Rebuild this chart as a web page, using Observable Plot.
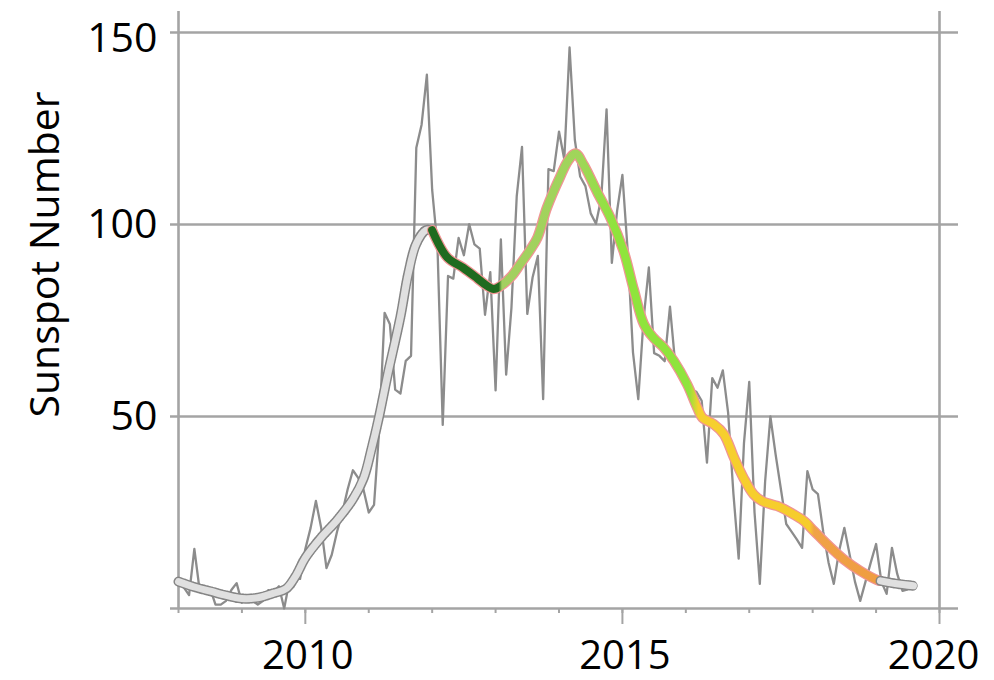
<!DOCTYPE html>
<html>
<head>
<meta charset="utf-8">
<script src="https://cdn.jsdelivr.net/npm/d3@7"></script>
<script src="https://cdn.jsdelivr.net/npm/@observablehq/plot@0.6"></script>
<style>
  html, body { margin: 0; padding: 0; background: #fff; }
  #chart svg { display: block; }
</style>
</head>
<body>
<div id="chart"></div>
<script>
// ---- Data: monthly sunspot numbers (Jan..Dec of each year) ----
const m2008 = [5.5, 3.5, 15.5, 4.8, 4.8, 5.2, 1.0, 1.0, 2.0, 4.8, 6.6, 1.5];
const m2009 = [2.2, 2.0, 1.0, 2.0, 4.8, 4.3, 5.8, 0.0, 7.2, 8.0, 7.7, 15.5];
const m2010 = [21, 28, 21, 10.5, 14, 20, 25, 31, 36, 34, 31, 25];
const m2011 = [27, 47, 77, 74, 57, 56, 64.5, 65.8, 120, 126, 139, 109];
const m2012 = [94.4, 47.8, 86.6, 85.9, 96.5, 92.0, 100.1, 94.8, 93.7, 76.5, 87.6, 56.8];
const m2013 = [96.1, 60.9, 78.3, 107.3, 120.2, 76.7, 86.2, 91.8, 54.5, 114.4, 113.9, 124.2];
const m2014 = [117.0, 146.1, 122, 112.5, 110, 102.9, 100.2, 106.9, 130.0, 90.0, 103.6, 112.9];
const m2015 = [93.0, 66.7, 54.5, 75.3, 88.8, 66.5, 65.8, 64.4, 78.6, 63.6, 62.2, 58.0];
const m2016 = [57, 56.4, 54.1, 38, 60, 57.5, 62, 51, 30, 13, 43, 59];
const m2017 = [25, 6.4, 33, 50, 40, 31, 22, 20, 18, 15.8, 35.8, 31];
const m2018 = [29.8, 20, 12, 6.4, 15, 21, 14, 7, 2, 7, 12, 16.8];
const m2019 = [7, 3.8, 15.8, 9, 4.6, 5, 6];
const monthlyYears = [2008, 2009, 2010, 2011, 2012, 2013, 2014, 2015, 2016, 2017, 2018, 2019];
const monthlyByYear = [m2008, m2009, m2010, m2011, m2012, m2013, m2014, m2015, m2016, m2017, m2018, m2019];

// ---- Data: smoothed sunspot number (time in decimal years) ----
const smoothEarlyT = [2008.0, 2008.25, 2008.5, 2008.75, 2009.0, 2009.25, 2009.5, 2009.7, 2009.85, 2010.0, 2010.25, 2010.5, 2010.75, 2010.92, 2011.05, 2011.15, 2011.3, 2011.5, 2011.62, 2011.75, 2011.9, 2012.0];
const smoothEarlyV = [7.0, 5.6, 4.5, 3.4, 2.6, 2.8, 4.0, 5.2, 8.5, 13.2, 18.5, 23, 28.5, 34, 42, 49, 61, 76, 87, 95, 98.5, 98.5];

const smoothCycleT = [2012.0, 2012.24, 2012.49, 2012.71, 2012.85, 2012.97, 2013.08, 2013.25, 2013.39, 2013.55, 2013.66, 2013.81, 2014.02, 2014.14, 2014.26, 2014.39, 2014.6, 2014.81, 2015.02, 2015.18, 2015.34, 2015.49, 2015.65, 2015.81, 2016.02, 2016.18, 2016.26, 2016.35, 2016.44, 2016.6, 2016.76, 2016.91, 2017.07, 2017.2, 2017.33, 2017.44, 2017.7, 2017.86, 2018.02, 2018.23, 2018.49, 2018.75, 2019.02, 2019.07];
const smoothCycleV = [98.5, 91.4, 88.7, 86, 84.2, 83.2, 84, 86.5, 89.7, 93.5, 96.6, 104.4, 112.5, 116.5, 118.5, 115.5, 108.5, 101.8, 93, 83, 74, 70.5, 68, 64.5, 58.4, 52.3, 49.7, 48.8, 48, 45.4, 39.3, 34, 29.7, 28, 27.2, 26.7, 24.5, 22.8, 20.2, 16.7, 12.8, 9.8, 7.4, 7.2];

const smoothTailT = [2019.07, 2019.3, 2019.59];
const smoothTailV = [7.2, 6.5, 5.9];

// ---- Axis ticks / labels ----
const yGridValues = [50, 100, 150];
const yTickLabelsLow = [50, 100];
const yTickLabelsTop = [150];
const xMinorTicks = [2008, 2009, 2010, 2011, 2012, 2013, 2014, 2015, 2016, 2017, 2018, 2019, 2020];
const xMajorTicks = [2010, 2015, 2020];
const xFrameYears = [2008, 2020];
const yTitle = "Sunspot Number";

// ---- Tables built from the arrays ----
const monthly = [];
monthlyYears.forEach((yr, k) => monthlyByYear[k].forEach((v, i) => monthly.push({t: yr + (i + 1) / 12, v})));
const zip = (T, V) => T.map((t, i) => ({t, v: V[i]}));
const smoothEarly = zip(smoothEarlyT, smoothEarlyV);
const smoothCycle = zip(smoothCycleT, smoothCycleV);
const smoothTail = zip(smoothTailT, smoothTailV);

// ---- Styles ----
const gridColor = "#a4a4a4";
const gradientStops = [
  [2012.0, "#1f6b1f"], [2013.05, "#1f6b1f"], [2013.1, "#a3cf60"], [2014.3, "#a0d55a"],
  [2014.9, "#8fe43c"], [2016.05, "#8fe43c"], [2016.2, "#f6d02e"], [2017.95, "#f6cc2c"],
  [2018.02, "#f0a247"], [2019.07, "#ef9c40"]
];

const plot = Plot.plot({
  width: 994,
  height: 680,
  marginLeft: 178,
  marginRight: 55,
  marginTop: 32,
  marginBottom: 72,
  x: {domain: [2008, 2020], label: null},
  y: {domain: [0, 150], label: null},
  style: {fontFamily: "'Open Sans', sans-serif", fontSize: "41px", color: "#000", background: "#fff"},
  marks: [
    Plot.ruleY(yGridValues, {stroke: gridColor, strokeWidth: 2.6, insetLeft: -8, insetRight: -19}),
    Plot.ruleY([0], {stroke: gridColor, strokeWidth: 2.6, insetLeft: -8, insetRight: -19}),
    Plot.ruleX(xFrameYears, {stroke: gridColor, strokeWidth: 2.6, insetTop: -21}),
    Plot.axisX({ticks: xMinorTicks, tickSize: 5, tickFormat: () => "", stroke: gridColor, strokeWidth: 2, label: null}),
    Plot.axisX({ticks: xMajorTicks, tickSize: 16, tickFormat: () => "", stroke: gridColor, strokeWidth: 2, label: null}),
    Plot.axisX({ticks: xMajorTicks.slice(0, 2), tickSize: 0, tickPadding: 32, dx: 2.5, fontSize: 40, tickFormat: d => String(d), fill: "#000", label: null}),
    Plot.axisX({ticks: xMajorTicks.slice(2), tickSize: 0, tickPadding: 32, dx: -6, fontSize: 40, tickFormat: d => String(d), fill: "#000", label: null}),
    Plot.axisY({ticks: yTickLabelsLow, tickSize: 0, tickPadding: 21, tickFormat: d => String(d), fill: "#000", label: null}),
    Plot.axisY({ticks: yTickLabelsTop, tickSize: 0, tickPadding: 21, dy: 6, tickFormat: d => String(d), fill: "#000", label: null}),
    Plot.text([yTitle], {frameAnchor: "left", textAnchor: "middle", lineAnchor: "middle", rotate: -90, dx: -133, dy: -66, fill: "#000", fontSize: 41}),
    // monthly values
    Plot.line(monthly, {x: "t", y: "v", stroke: "#8c8c8c", strokeWidth: 2.3}),
    // smoothed, early part (grey)
    Plot.line(smoothEarly, {x: "t", y: "v", stroke: "#858585", strokeWidth: 10, strokeDasharray: "1.3,1.3", curve: "catmull-rom"}),
    Plot.line(smoothEarly, {x: "t", y: "v", stroke: "#e0e0e0", strokeWidth: 7, curve: "catmull-rom"}),
    // smoothed, cycle part (coloured)
    Plot.line(smoothCycle, {x: "t", y: "v", stroke: "#f09494", strokeWidth: 10.5, curve: "catmull-rom", strokeLinecap: "round"}),
    Plot.line(smoothCycle, {x: "t", y: "v", stroke: "url(#cycleGrad)", strokeWidth: 8, curve: "catmull-rom", strokeLinecap: "round"}),
    // smoothed, tail (grey)
    Plot.line(smoothTail, {x: "t", y: "v", stroke: "#858585", strokeWidth: 10, strokeDasharray: "1.3,1.3", curve: "catmull-rom"}),
    Plot.line(smoothTail, {x: "t", y: "v", stroke: "#e0e0e0", strokeWidth: 7, curve: "catmull-rom"})
  ]
});

// gradient along x for the coloured smoothed line
const xs = plot.scale("x");
const ns = "http://www.w3.org/2000/svg";
const defs = document.createElementNS(ns, "defs");
const grad = document.createElementNS(ns, "linearGradient");
const g0 = gradientStops[0][0], g1 = gradientStops[gradientStops.length - 1][0];
grad.setAttribute("id", "cycleGrad");
grad.setAttribute("gradientUnits", "userSpaceOnUse");
grad.setAttribute("x1", xs.apply(g0));
grad.setAttribute("x2", xs.apply(g1));
grad.setAttribute("y1", 0);
grad.setAttribute("y2", 0);
for (const [t, c] of gradientStops) {
  const s = document.createElementNS(ns, "stop");
  s.setAttribute("offset", (t - g0) / (g1 - g0));
  s.setAttribute("stop-color", c);
  grad.appendChild(s);
}
defs.appendChild(grad);
plot.insertBefore(defs, plot.firstChild);

document.getElementById("chart").appendChild(plot);
</script>
</body>
</html>
